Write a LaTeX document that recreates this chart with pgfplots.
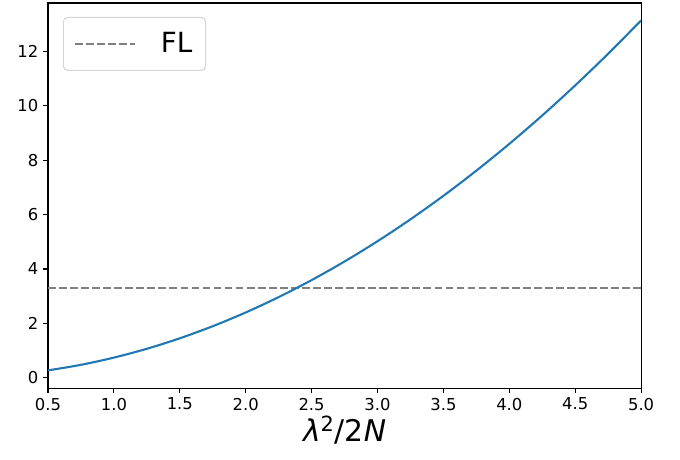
\documentclass[border=0pt]{standalone}
\usepackage{fontspec}
\setmainfont{DejaVu Sans}
\usepackage{pgfplots}
\pgfplotsset{compat=1.18}
\definecolor{mplblue}{HTML}{1F77B4}
\definecolor{legedge}{HTML}{D6D6D6}

\pgfplotstableread{
x     y
0.50  0.27
0.75  0.475
1.00  0.74
1.25  1.065
1.50  1.45
1.75  1.895
2.00  2.40
2.25  2.965
2.50  3.59
2.75  4.275
3.00  5.02
3.25  5.825
3.50  6.69
3.75  7.615
4.00  8.60
4.25  9.645
4.50  10.75
4.75  11.915
5.00  13.14
}\curve

\begin{document}
\begin{tikzpicture}
\useasboundingbox (-34.56pt,-51.12pt) rectangle (454.96pt,279.36pt);
\begin{axis}[
  scale only axis,
  width=426.96pt, height=277.2pt,
  at={(0,0)}, anchor=south west,
  xmin=0.5, xmax=5.0, ymin=-0.38, ymax=13.78,
  xtick={0.5,1.0,...,5.0},
  ytick={0,2,...,12},
  xticklabel style={/pgf/number format/.cd, fixed, fixed zerofill, precision=1},
  /pgf/number format/assume math mode=true,
  tick label style={font=\fontsize{11.8}{14}\selectfont},
  tick align=outside,
  major tick length=3.5pt,
  every tick/.style={black, line width=0.8pt},
  xtick pos=bottom, ytick pos=left,
  axis line style={line width=0.8pt},
  xlabel={{\itshape λ}\textsuperscript{2}/2{\itshape N}},
  xlabel style={font=\fontsize{21.5}{25}\selectfont, yshift=3pt},
  legend style={at={(0.025,0.964)}, anchor=north west,
    draw=legedge, rounded corners=3pt, line width=0.8pt,
    font=\fontsize{20}{24}\selectfont,
    inner xsep=7.5pt, inner ysep=9pt,
    cells={anchor=west}},
  legend image code/.code={\draw[#1] (0pt,0pt) -- (43pt,0pt);
    \path[draw=none] (0pt,0pt) -- (60pt,0pt);},
]
\addplot[gray, line width=1.5pt, dash pattern=on 5.55pt off 2.4pt]
  coordinates {(0.5,3.29) (5.0,3.29)};
\addlegendentry{FL}
\addplot[mplblue, line width=1.5pt, smooth] table[x=x, y=y] {\curve};
\end{axis}
\end{tikzpicture}
\end{document}
